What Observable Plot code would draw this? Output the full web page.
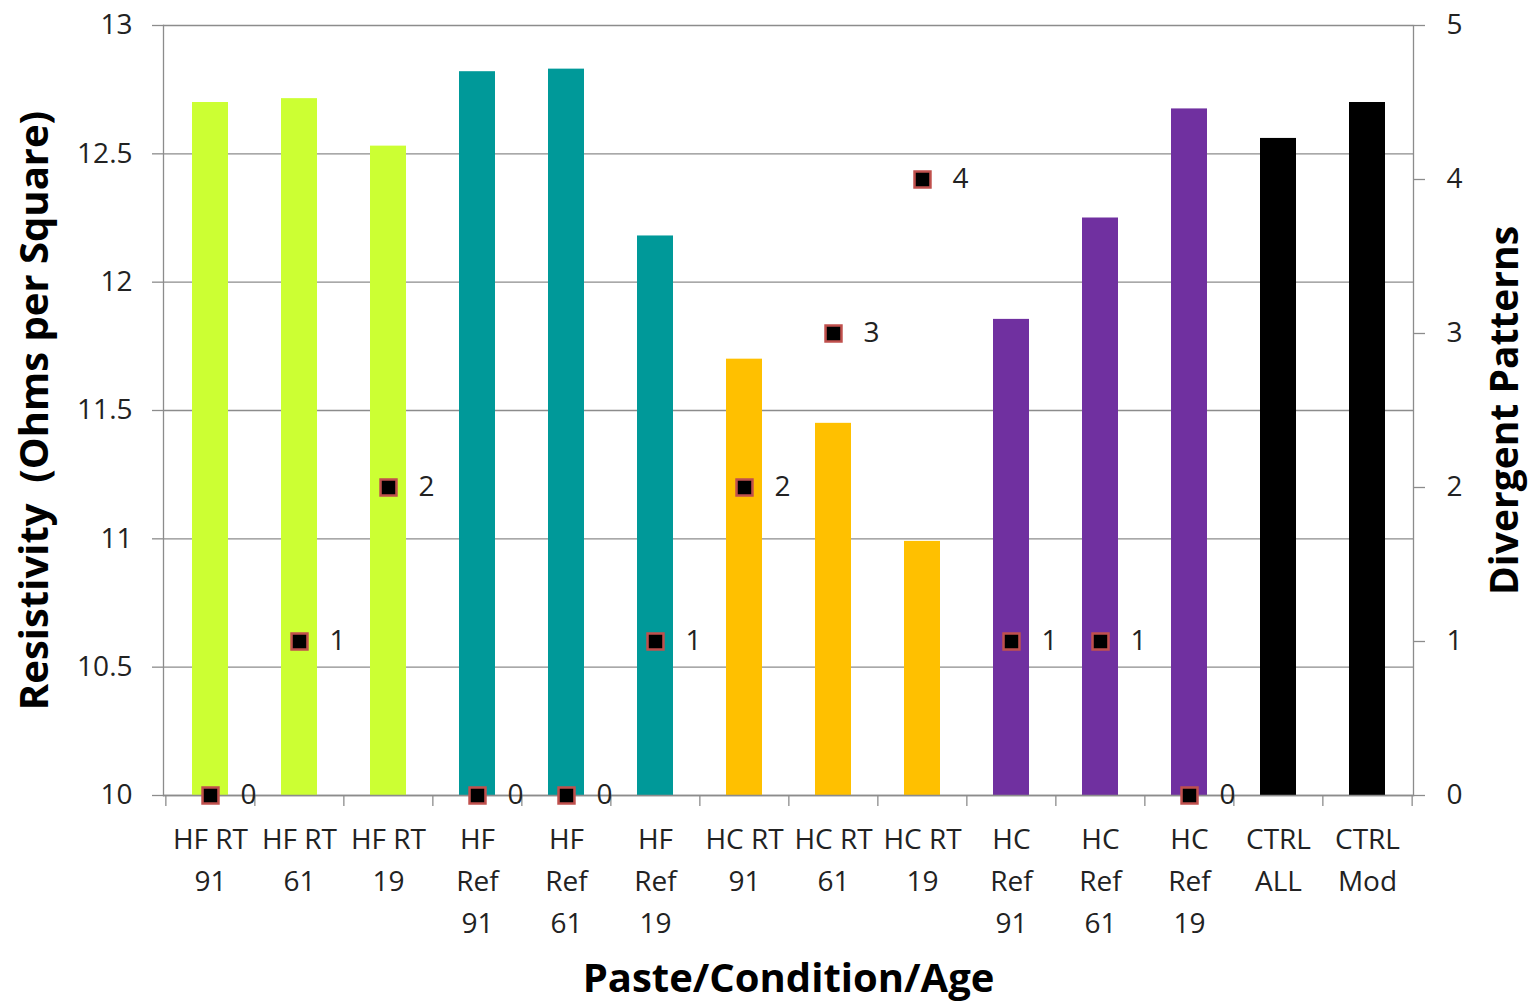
<!DOCTYPE html>
<html>
<head>
<meta charset="utf-8">
<script src="https://cdn.jsdelivr.net/npm/d3@7"></script>
<script src="https://cdn.jsdelivr.net/npm/@observablehq/plot@0.6"></script>
<style>
  html, body { margin: 0; padding: 0; background: #fff; }
  #chart { width: 1530px; height: 1007px; }
</style>
</head>
<body>
<div id="chart"></div>
<script>
const categories = ["HF RT 91","HF RT 61","HF RT 19","HF Ref 91","HF Ref 61","HF Ref 19","HC RT 91","HC RT 61","HC RT 19","HC Ref 91","HC Ref 61","HC Ref 19","CTRL ALL","CTRL Mod"];
const tickLabels = ["HF RT\n91","HF RT\n61","HF RT\n19","HF\nRef\n91","HF\nRef\n61","HF\nRef\n19","HC RT\n91","HC RT\n61","HC RT\n19","HC\nRef\n91","HC\nRef\n61","HC\nRef\n19","CTRL\nALL","CTRL\nMod"];
const groups = ["HF RT","HF RT","HF RT","HF Ref","HF Ref","HF Ref","HC RT","HC RT","HC RT","HC Ref","HC Ref","HC Ref","CTRL","CTRL"];
const resistivity = [12.70, 12.715, 12.53, 12.82, 12.83, 12.18, 11.70, 11.45, 10.99, 11.855, 12.25, 12.675, 12.56, 12.70];
const divergent = [0, 1, 2, 0, 0, 1, 2, 3, 4, 1, 1, 0, null, null];
const groupNames = ["HF RT","HF Ref","HC RT","HC Ref","CTRL"];
const groupColors = ["#CCFF33","#009999","#FFC000","#7030A0","#000000"];
const leftTicks = [10, 10.5, 11, 11.5, 12, 12.5, 13];
const rightTicks = [0, 1, 2, 3, 4, 5];

// secondary axis (0..5) mapped onto primary (10..13)
const yMin = 10, yMax = 13, rMax = 5;
const toPrimary = v => yMin + v * (yMax - yMin) / rMax;

const data = categories.map((c, i) => ({
  cat: c, label: tickLabels[i], group: groups[i], res: resistivity[i], div: divergent[i]
}));
const points = data.filter(d => d.div != null);
const labelOf = new Map(data.map(d => [d.cat, d.label]));

const font = "'Open Sans', 'DejaVu Sans', sans-serif";
const gray = "#8c8c8c";

const chart = Plot.plot({
  width: 1530,
  height: 1007,
  marginLeft: 163,
  marginRight: 117,
  marginTop: 25,
  marginBottom: 212,
  style: { fontFamily: font, fontSize: "28px", color: "#222", background: "#fff" },
  x: { type: "band", domain: categories, paddingInner: 0.6, paddingOuter: 0.3, align: 0.5 },
  y: { domain: [yMin, yMax] },
  color: { domain: groupNames, range: groupColors },
  marks: [
    Plot.gridY(leftTicks, { stroke: gray, strokeOpacity: 1, strokeWidth: 1.3 }),
    Plot.barY(data, { x: "cat", y1: () => yMin, y2: "res", fill: "group" }),
    Plot.frame({ anchor: "left", stroke: gray, strokeWidth: 1.3 }),
    Plot.frame({ anchor: "right", stroke: gray, strokeWidth: 1.3 }),
    Plot.frame({ anchor: "bottom", stroke: gray, strokeWidth: 1.3 }),
    Plot.axisY({ anchor: "left", ticks: leftTicks, tickSize: 11, tickPadding: 20, stroke: gray, strokeWidth: 1.3, label: null, fontSize: 28, tickFormat: d => String(d) }),
    Plot.axisY({ anchor: "right", ticks: rightTicks.map(toPrimary), tickSize: 11, tickPadding: 22, stroke: gray, strokeWidth: 1.3, label: null, fontSize: 28, tickFormat: d => String(Math.round((d - yMin) * rMax / (yMax - yMin))) }),
    // boundary tick marks between categories
    Plot.axisX({ ticks: categories, tickSize: 11, stroke: gray, strokeWidth: 1.3, dx: -1250 / 28, tickFormat: () => "", label: null }),
    Plot.axisX({ ticks: [categories[categories.length - 1]], tickSize: 11, stroke: gray, strokeWidth: 1.3, dx: 1250 / 28, tickFormat: () => "", label: null }),
    // category labels
    Plot.axisX({ ticks: categories, tickSize: 0, tickPadding: 24, tickFormat: d => labelOf.get(d), lineHeight: 1.5, fontSize: 28, label: null }),
    Plot.dot(points, { x: "cat", y: d => toPrimary(d.div), symbol: "square", r: 9, fill: "#000", stroke: "#C0504D", strokeWidth: 2.5 }),
    Plot.text(points, { x: "cat", y: d => toPrimary(d.div), text: d => String(d.div), dx: 38, fontSize: 28, fill: "#222" }),
    Plot.text([ "Resistivity  (Ohms per Square)" ], { frameAnchor: "left", textAnchor: "middle", lineAnchor: "middle", text: d => d, rotate: -90, dx: -128, fontSize: 40, fontWeight: "bold", fill: "#000" }),
    Plot.text([ "Divergent Patterns" ], { frameAnchor: "right", textAnchor: "middle", lineAnchor: "middle", text: d => d, rotate: -90, dx: 92, fontSize: 39, fontWeight: "bold", fill: "#000" }),
    Plot.text([ "Paste/Condition/Age" ], { frameAnchor: "bottom", textAnchor: "middle", lineAnchor: "middle", text: d => d, dy: 184, fontSize: 40, fontWeight: "bold", fill: "#000" })
  ]
});
document.getElementById("chart").appendChild(chart);
</script>
</body>
</html>
